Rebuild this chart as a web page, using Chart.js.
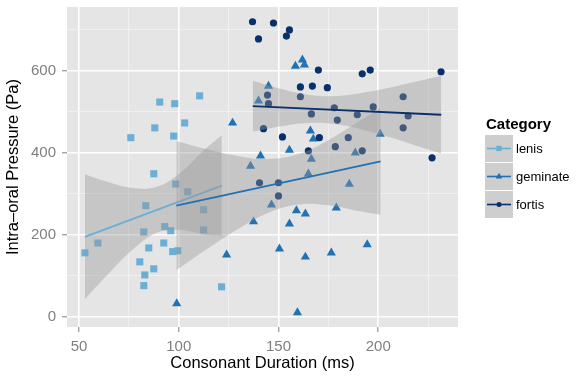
<!DOCTYPE html>
<html>
<head>
<meta charset="utf-8">
<script src="https://cdn.jsdelivr.net/npm/chart.js@4.4.1/dist/chart.umd.min.js"></script>
<style>
  html, body { margin: 0; padding: 0; background: #fff; }
</style>
</head>
<body>
<canvas id="chart" width="582" height="376"></canvas>
<script>
// ---- data ----
const categories = ['lenis', 'geminate', 'fortis'];

const lenisDuration = [53, 59.5, 76, 88, 90.5, 98, 97.5, 103, 110.5, 87.5, 98.5, 104.5, 83.5, 82.5, 93, 96, 85, 92.5, 97, 99.5, 80.5, 87.5, 83, 82.5, 112.5, 112.5, 121.5];
const lenisPressure = [156, 180, 437, 461, 524, 520, 441, 473, 539, 349, 324, 305, 271, 207, 220, 210, 168, 180, 159, 161, 134, 117, 102, 76, 261, 212, 73];

const geminateDuration = [99, 124, 127, 136, 137.5, 140, 141, 145, 146.5, 150.5, 155.5, 155.5, 158.5, 162, 163, 159, 159.5, 163.5, 163.5, 165, 166, 166.5, 167.5, 176.5, 179, 185.5, 188.5, 194.5, 201];
const geminatePressure = [32, 151, 473, 368, 232, 527, 393, 563, 273, 166, 407, 227, 612, 627, 615, 259, 10, 251, 146, 349, 454, 385, 434, 156, 266, 324, 400, 176, 446];

const fortisDuration = [137, 147.5, 155.5, 140, 154, 170, 161, 167, 174.5, 144.5, 161, 145, 178, 166.5, 179.5, 142.5, 152, 170.5, 178.5, 165, 140.5, 150, 150, 192, 196, 231.5, 212.5, 189.5, 197.5, 215, 212.5, 185, 192, 227];
const fortisPressure = [720, 717, 700, 678, 685, 602, 561, 563, 559, 541, 537, 520, 510, 495, 480, 459, 439, 437, 415, 405, 327, 327, 295, 593, 602, 598, 537, 493, 512, 490, 461, 437, 405, 388];

// fitted lines and confidence bands, as drawn in the reference
const lenisFitX = [53, 121.6];
const lenisFitY = [195, 320];
const lenisBandX = [53, 65, 77, 89, 101, 113, 121.6];
const lenisBandUpper = [347, 328, 314, 317, 352, 408, 443];
const lenisBandLower = [43, 106, 164, 205, 212, 200, 197];

const geminateFitX = [98.8, 201.2];
const geminateFitY = [271, 379];
const geminateBandX = [98.8, 115, 130, 145, 160, 175, 190, 201.2];
const geminateBandUpper = [429, 408, 392, 385, 397, 431, 476, 509];
const geminateBandLower = [114, 168, 215, 254, 274, 272, 258, 249];

const fortisFitX = [137.1, 231.6];
const fortisFitY = [514, 493];
const fortisBandX = [137.1, 150, 165, 180, 195, 210, 222, 231.6];
const fortisBandUpper = [576, 558, 542, 539, 549, 564, 577, 588];
const fortisBandLower = [452, 464, 473, 469, 453, 432, 413, 398];

const xMajorTicks = [50, 100, 150, 200];
const xMinorTicks = [75, 125, 175, 225];
const yMajorTicks = [0, 200, 400, 600];
const yMinorTicks = [100, 300, 500, 700];

// ---- styling ----
const FONT = '"Liberation Sans", Arial, Helvetica, sans-serif';
const colors = { lenis: '#6BAED6', geminate: '#2171B5', fortis: '#08306B' };
const shapes = { lenis: 'rect', geminate: 'triangle', fortis: 'circle' };
const radii = { lenis: 5, geminate: 5.3, fortis: 3.6 };
const bandFill = 'rgba(153, 153, 153, 0.4)';

const zip = (xs, ys) => xs.map((x, i) => ({ x, y: ys[i] }));

const series = {
  lenis: { dur: lenisDuration, pres: lenisPressure, fitX: lenisFitX, fitY: lenisFitY, bx: lenisBandX, bu: lenisBandUpper, bl: lenisBandLower },
  geminate: { dur: geminateDuration, pres: geminatePressure, fitX: geminateFitX, fitY: geminateFitY, bx: geminateBandX, bu: geminateBandUpper, bl: geminateBandLower },
  fortis: { dur: fortisDuration, pres: fortisPressure, fitX: fortisFitX, fitY: fortisFitY, bx: fortisBandX, bu: fortisBandUpper, bl: fortisBandLower },
};

// lower order is painted later (on top): points first, then ribbon + line per group
const datasets = [];
categories.forEach((name, g) => {
  const s = series[name];
  datasets.push({
    label: name,
    data: zip(s.dur, s.pres),
    showLine: false,
    pointStyle: shapes[name],
    pointRadius: radii[name],
    pointBorderWidth: 0,
    pointBackgroundColor: colors[name],
    order: 20 - g,
  });
});
categories.forEach((name, g) => {
  const s = series[name];
  datasets.push({
    label: name + ' band upper',
    data: zip(s.bx, s.bu),
    borderWidth: 0,
    pointRadius: 0,
    tension: 0.4,
    fill: '+1',
    backgroundColor: bandFill,
    order: 10 - g * 3,
  });
  datasets.push({
    label: name + ' band lower',
    data: zip(s.bx, s.bl),
    borderWidth: 0,
    pointRadius: 0,
    tension: 0.4,
    fill: false,
    order: 10 - g * 3,
  });
  datasets.push({
    label: name + ' fit',
    data: zip(s.fitX, s.fitY),
    borderColor: colors[name],
    borderWidth: 1.8,
    pointRadius: 0,
    fill: false,
    order: 9 - g * 3,
  });
});

function gridOpts(major) {
  return {
    color: (c) => (c.tick && major.includes(c.tick.value) ? '#FFFFFF' : '#F2F2F2'),
    lineWidth: (c) => (c.tick && major.includes(c.tick.value) ? 1.6 : 0.8),
    tickColor: (c) => (c.tick && major.includes(c.tick.value) ? '#7F7F7F' : 'rgba(0,0,0,0)'),
    tickLength: 5,
    tickWidth: 1,
    drawTicks: true,
  };
}

const panelBackground = {
  id: 'panelBackground',
  beforeDraw(chart) {
    const { ctx, chartArea: a } = chart;
    ctx.save();
    ctx.fillStyle = '#E5E5E5';
    ctx.fillRect(a.left, a.top, a.right - a.left, a.bottom - a.top);
    ctx.restore();
  },
};

function drawMarker(ctx, shape, x, y, r) {
  ctx.beginPath();
  if (shape === 'rect') {
    ctx.rect(x - r, y - r, 2 * r, 2 * r);
  } else if (shape === 'triangle') {
    ctx.moveTo(x, y - r);
    ctx.lineTo(x + r * 0.866, y + r * 0.5);
    ctx.lineTo(x - r * 0.866, y + r * 0.5);
    ctx.closePath();
  } else {
    ctx.arc(x, y, r, 0, Math.PI * 2);
  }
  ctx.fill();
}

const categoryLegend = {
  id: 'categoryLegend',
  afterDraw(chart) {
    const ctx = chart.ctx;
    ctx.save();
    ctx.textBaseline = 'middle';
    ctx.fillStyle = '#000';
    ctx.font = 'bold 15px ' + FONT;
    ctx.fillText('Category', 486, 125);
    ctx.font = '13px ' + FONT;
    const keyMarker = { lenis: 2.6, geminate: 3.8, fortis: 2.5 };
    categories.forEach((name, i) => {
      const top = 135 + i * 28;
      ctx.fillStyle = '#F2F2F2';
      ctx.fillRect(485, top, 28, 27);
      ctx.fillStyle = bandFill;
      ctx.fillRect(485, top, 28, 27);
      const cy = top + 13.5;
      ctx.strokeStyle = colors[name];
      ctx.lineWidth = 1.6;
      ctx.beginPath();
      ctx.moveTo(487, cy);
      ctx.lineTo(511, cy);
      ctx.stroke();
      ctx.fillStyle = colors[name];
      drawMarker(ctx, shapes[name], 499, cy, keyMarker[name]);
      ctx.fillStyle = '#000';
      ctx.fillText(name, 516, cy + 1);
    });
    ctx.restore();
  },
};

Chart.defaults.font.family = FONT;

new Chart(document.getElementById('chart'), {
  type: 'line',
  data: { datasets },
  plugins: [panelBackground, categoryLegend],
  options: {
    responsive: false,
    animation: false,
    events: [],
    layout: { padding: { left: 0, right: 124, top: 7, bottom: 0 } },
    plugins: { legend: { display: false }, tooltip: { enabled: false } },
    scales: {
      x: {
        type: 'linear',
        min: 44,
        max: 240,
        afterBuildTicks: (s) => { s.ticks = [...xMajorTicks, ...xMinorTicks].sort((a, b) => a - b).map((v) => ({ value: v })); },
        afterFit: (s) => { s.height = 49; s.paddingLeft = 0; s.paddingRight = 0; },
        border: { display: false },
        grid: gridOpts(xMajorTicks),
        ticks: {
          autoSkip: false,
          maxRotation: 0,
          padding: 6,
          color: '#7F7F7F',
          font: { size: 15 },
          callback: (v) => (xMajorTicks.includes(v) ? String(v) : ''),
        },
        title: {
          display: true,
          text: 'Consonant Duration (ms)',
          color: '#000',
          font: { size: 16.5 },
          padding: { top: 0, bottom: 3 },
        },
      },
      y: {
        type: 'linear',
        min: -25,
        max: 756,
        afterBuildTicks: (s) => { s.ticks = [...yMajorTicks, ...yMinorTicks].sort((a, b) => a - b).map((v) => ({ value: v })); },
        afterFit: (s) => { s.width = 67; s.paddingTop = 0; s.paddingBottom = 0; },
        border: { display: false },
        grid: gridOpts(yMajorTicks),
        ticks: {
          autoSkip: false,
          padding: 6,
          color: '#7F7F7F',
          font: { size: 15 },
          callback: (v) => (yMajorTicks.includes(v) ? String(v) : ''),
        },
        title: {
          display: true,
          text: 'Intra–oral Pressure (Pa)',
          color: '#000',
          font: { size: 16.5 },
          padding: { top: 4, bottom: 0 },
        },
      },
    },
  },
});
</script>
</body>
</html>
